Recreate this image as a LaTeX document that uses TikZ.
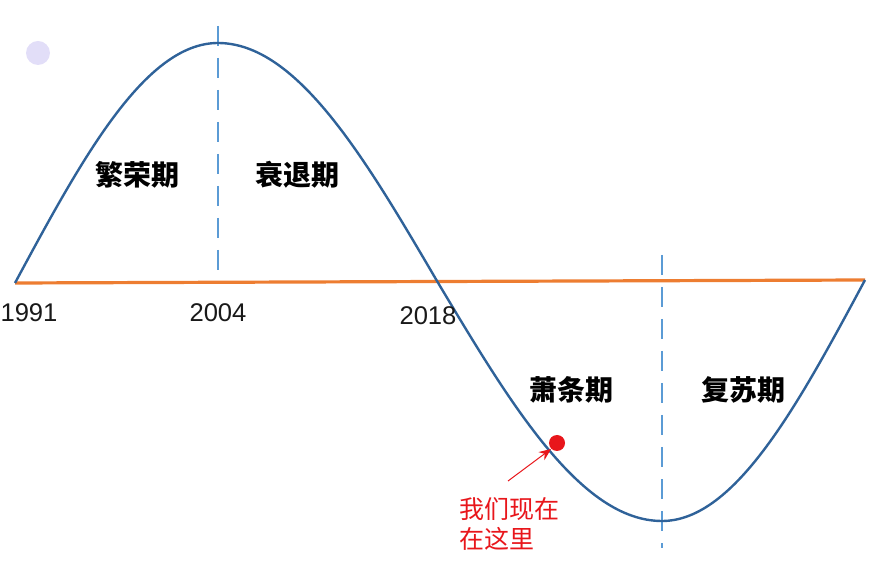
\documentclass[tikz,border=0pt]{standalone}
\usepackage{fontspec}
\setmainfont{Liberation Sans}
\newfontfamily\cjk{Noto Sans CJK SC}
\usetikzlibrary{arrows.meta}

\definecolor{waveblue}{HTML}{2F6299}
\definecolor{dashblue}{HTML}{5B9BD5}
\definecolor{axisorange}{HTML}{ED7D31}
\definecolor{markred}{HTML}{E8161B}
\definecolor{lavender}{HTML}{E2DEF8}

\tikzset{
  phase/.style={font=\cjk\bfseries\fontsize{14}{16}\selectfont, text=black},
  year/.style={font=\fontsize{12.8}{14}\selectfont, text=black!90},
  divider/.style={dashblue, line width=1.3pt, dash pattern=on 10pt off 6pt},
}

\begin{document}
\begin{tikzpicture}[x=0.5pt, y=-0.5pt]
  \useasboundingbox (0,0) rectangle (877,576);

  % Faint dot in the corner
  \fill[lavender] (38,53) circle (12);

  % Phase boundaries
  \coordinate (peaktop) at (218,26);
  \coordinate (peakaxis) at (218,282);
  \coordinate (troughtop) at (662,255);
  \coordinate (troughbottom) at (662,548);
  \draw[divider] (peaktop) -- (peakaxis);
  \draw[divider] (troughtop) -- (troughbottom);

  % Horizontal axis line
  \coordinate (axisleft) at (15,283);
  \coordinate (axisright) at (865,280);
  \draw[axisorange, line width=1.6pt] (axisleft) -- (axisright);

  % The cycle: four sine quarters
  \coordinate (peak) at (218,43);
  \coordinate (cross) at (437,281);
  \coordinate (trough) at (662,521);
  \draw[waveblue, line width=1.2pt]
    (axisleft) sin (peak) cos (cross) sin (trough) cos (axisright);

  % Phase labels
  \node[phase] (boom) at (137,175) {繁荣期};
  \node[phase] (recession) at (297,175) {衰退期};
  \node[phase] (depression) at (571,390) {萧条期};
  \node[phase] (recovery) at (743,390) {复苏期};

  % Years
  \node[year] (y1991) at (29,313) {1991};
  \node[year] (y2004) at (218,313) {2004};
  \node[year] (y2018) at (428,316) {2018};

  % We are here
  \node[circle, fill=markred, inner sep=0pt, minimum size=8pt] (now) at (557,443) {};
  \node[font=\cjk\fontsize{12.5}{15}\selectfont, text=markred, align=left, anchor=north west]
    (here) at (452,490) {我们现在\\在这里};
  \coordinate (tail) at (508,481);
  \draw[markred, line width=0.5pt, -{Stealth[length=6pt,width=5pt]}] (tail) -- (now.south west);
\end{tikzpicture}
\end{document}
